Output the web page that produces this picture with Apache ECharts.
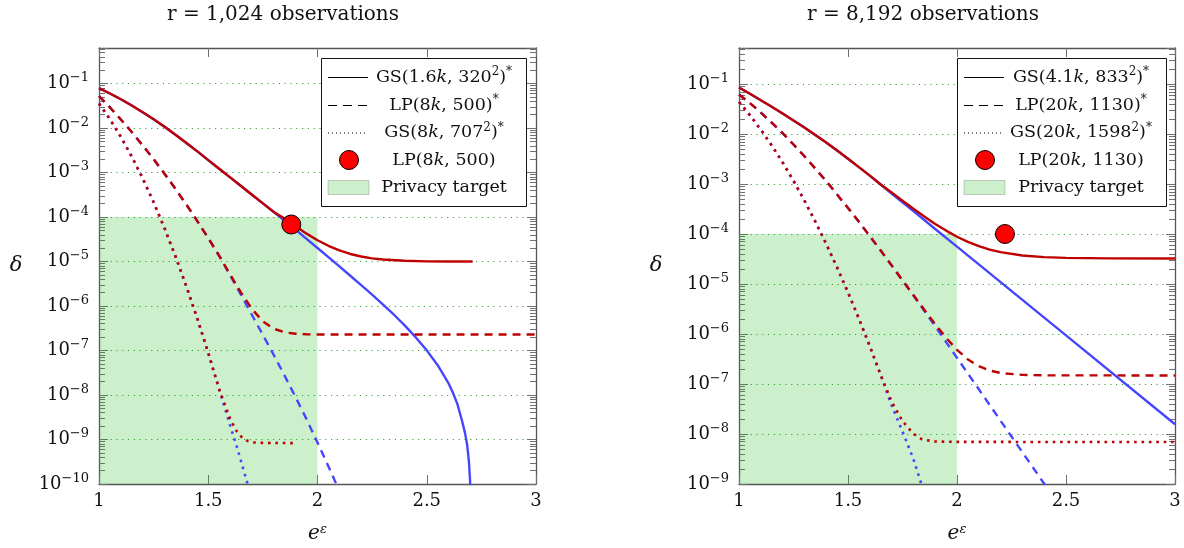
<!DOCTYPE html>
<html>
<head>
<meta charset="utf-8">
<script src="https://cdn.jsdelivr.net/npm/echarts@6/dist/echarts.min.js"></script>
<style>
  html, body { margin: 0; padding: 0; background: #ffffff; }
  #chart { width: 1184px; height: 548px; }
</style>
</head>
<body>
<div id="chart"></div>
<script>
// ---------- data: r = 1,024 observations ----------
// Each mechanism has a shared head where the finite-r curve (red) and the
// asymptotic curve (blue) coincide, followed by their separate tails.
const a_gs_x_head  = [1.0, 1.05, 1.1, 1.15, 1.2, 1.25, 1.3, 1.35, 1.4, 1.45, 1.5, 1.55, 1.6, 1.65, 1.7, 1.75, 1.8];
const a_gs_d_head  = [7.94e-2, 6.00e-2, 4.45e-2, 3.22e-2, 2.28e-2, 1.58e-2, 1.07e-2, 7.08e-3, 4.62e-3, 2.99e-3, 1.91e-3, 1.22e-3, 7.82e-4, 4.99e-4, 3.18e-4, 2.03e-4, 1.30e-4];
const a_gs_x_red   = [1.85, 1.9, 1.95, 2.0, 2.05, 2.1, 2.15, 2.2, 2.25, 2.3, 2.4, 2.5, 2.6, 2.71];
const a_gs_d_red   = [9.23e-5, 6.19e-5, 4.24e-5, 3.02e-5, 2.26e-5, 1.78e-5, 1.48e-5, 1.30e-5, 1.18e-5, 1.11e-5, 1.04e-5, 1.01e-5, 1.0e-5, 1.0e-5];
const a_gs_x_blue  = [1.85, 1.9, 1.95, 2.0, 2.05, 2.1, 2.15, 2.2, 2.25, 2.3, 2.35, 2.4, 2.45, 2.5, 2.55, 2.6, 2.62, 2.64, 2.66, 2.675, 2.685, 2.693, 2.698, 2.701];
const a_gs_d_blue  = [8.22e-5, 5.19e-5, 3.24e-5, 2.02e-5, 1.26e-5, 7.76e-6, 4.79e-6, 2.95e-6, 1.80e-6, 1.08e-6, 6.38e-7, 3.63e-7, 1.97e-7, 1.01e-7, 4.68e-8, 1.82e-8, 1.12e-8, 6.31e-9, 2.82e-9, 1.41e-9, 7.59e-10, 3.16e-10, 1.26e-10, 5.01e-11];

const a_lp_x_head  = [1.0, 1.05, 1.1, 1.15, 1.2, 1.25, 1.3, 1.35, 1.4, 1.45, 1.5, 1.55];
const a_lp_d_head  = [5.25e-2, 2.91e-2, 1.56e-2, 8.13e-3, 4.08e-3, 1.99e-3, 9.40e-4, 4.29e-4, 1.90e-4, 8.13e-5, 3.36e-5, 1.35e-5];
const a_lp_x_red   = [1.6, 1.65, 1.7, 1.75, 1.8, 1.85, 1.9, 1.95, 2.0, 3.0];
const a_lp_d_red   = [5.13e-6, 2.01e-6, 8.60e-7, 4.53e-7, 3.08e-7, 2.56e-7, 2.38e-7, 2.32e-7, 2.30e-7, 2.29e-7];
const a_lp_x_blue  = [1.6, 1.65, 1.7, 1.75, 1.8, 1.85, 1.9, 1.95, 2.0, 2.05, 2.1];
const a_lp_d_blue  = [4.90e-6, 1.78e-6, 6.31e-7, 2.24e-7, 7.94e-8, 2.69e-8, 8.91e-9, 2.84e-9, 8.53e-10, 2.48e-10, 7.0e-11];

const a_gs2_x_head = [1.0, 1.05, 1.1, 1.15, 1.2, 1.25, 1.3, 1.35, 1.4, 1.45, 1.5, 1.55];
const a_gs2_d_head = [3.55e-2, 1.58e-2, 6.35e-3, 2.29e-3, 7.40e-4, 2.15e-4, 5.60e-5, 1.31e-5, 2.76e-6, 5.22e-7, 8.85e-8, 1.35e-8];
const a_gs2_x_red  = [1.6, 1.63, 1.655, 1.68, 1.71, 1.75, 1.89];
const a_gs2_d_red  = [2.92e-9, 1.54e-9, 1.10e-9, 9.30e-10, 8.60e-10, 8.40e-10, 8.30e-10];
const a_gs2_x_blue = [1.6, 1.63, 1.655, 1.68];
const a_gs2_d_blue = [2.09e-9, 7.08e-10, 2.69e-10, 1.0e-10];

const a_point = [1.88, 6.8e-5];          // LP(8k, 500)
const a_target = [1, 2, 1e-4];           // e^eps from, e^eps to, delta ceiling
const a_yRange = [1e-10, 0.631];

// ---------- data: r = 8,192 observations ----------
const b_gs_x_head  = [1.0, 1.05, 1.1, 1.15, 1.2, 1.25, 1.3, 1.35, 1.4, 1.45, 1.5, 1.55, 1.6, 1.65];
const b_gs_d_head  = [8.51e-2, 6.38e-2, 4.75e-2, 3.52e-2, 2.58e-2, 1.87e-2, 1.35e-2, 9.57e-3, 6.73e-3, 4.68e-3, 3.21e-3, 2.18e-3, 1.47e-3, 9.77e-4];
const b_gs_x_red   = [1.7, 1.75, 1.8, 1.85, 1.9, 1.95, 2.0, 2.05, 2.1, 2.15, 2.2, 2.3, 2.4, 2.5, 2.7, 3.0];
const b_gs_d_red   = [6.79e-4, 4.63e-4, 3.19e-4, 2.23e-4, 1.59e-4, 1.17e-4, 8.82e-5, 6.96e-5, 5.71e-5, 4.88e-5, 4.33e-5, 3.72e-5, 3.45e-5, 3.33e-5, 3.26e-5, 3.24e-5];
const b_gs_x_blue  = [1.7, 1.75, 1.8, 1.85, 1.9, 2.0, 2.5, 3.0];
const b_gs_d_blue  = [6.47e-4, 4.31e-4, 2.86e-4, 1.91e-4, 1.26e-4, 5.58e-5, 9.38e-7, 1.57e-8];

const b_lp_x_head  = [1.0, 1.05, 1.1, 1.15, 1.2, 1.25, 1.3, 1.35, 1.4, 1.45, 1.5, 1.55, 1.6, 1.65, 1.7, 1.75];
const b_lp_d_head  = [6.17e-2, 4.14e-2, 2.69e-2, 1.69e-2, 1.04e-2, 6.17e-3, 3.59e-3, 2.04e-3, 1.14e-3, 6.18e-4, 3.31e-4, 1.75e-4, 9.08e-5, 4.66e-5, 2.36e-5, 1.18e-5];
const b_lp_x_red   = [1.8, 1.85, 1.9, 1.95, 2.0, 2.05, 2.1, 2.15, 2.2, 2.3, 2.4, 3.0];
const b_lp_d_red   = [6.04e-6, 3.05e-6, 1.57e-6, 8.38e-7, 4.82e-7, 3.10e-7, 2.27e-7, 1.86e-7, 1.66e-7, 1.52e-7, 1.49e-7, 1.48e-7];
const b_lp_x_blue  = [1.8, 1.85, 1.9, 1.95, 2.0, 2.05, 2.1, 2.15, 2.2, 2.25, 2.3, 2.35, 2.4, 2.41];
const b_lp_d_blue  = [5.89e-6, 2.90e-6, 1.43e-6, 6.90e-7, 3.34e-7, 1.62e-7, 7.85e-8, 3.80e-8, 1.84e-8, 8.91e-9, 4.31e-9, 2.09e-9, 1.01e-9, 8.7e-10];

const b_gs2_x_head = [1.0, 1.05, 1.1, 1.15, 1.2, 1.25, 1.3, 1.35, 1.4, 1.45, 1.5, 1.55, 1.6, 1.65];
const b_gs2_d_head = [4.37e-2, 2.38e-2, 1.22e-2, 5.92e-3, 2.70e-3, 1.16e-3, 4.67e-4, 1.77e-4, 6.35e-5, 2.14e-5, 6.78e-6, 2.03e-6, 5.70e-7, 1.51e-7];
const b_gs2_x_red  = [1.7, 1.75, 1.8, 1.84, 1.9, 2.0, 3.0];
const b_gs2_d_red  = [4.45e-8, 1.81e-8, 1.01e-8, 7.81e-9, 7.07e-9, 6.95e-9, 6.92e-9];
const b_gs2_x_blue = [1.7, 1.75, 1.8, 1.84];
const b_gs2_d_blue = [3.76e-8, 1.12e-8, 3.16e-9, 8.9e-10];

const b_point = [2.22, 1.0e-4];          // LP(20k, 1130)
const b_target = [1, 2, 1e-4];
const b_yRange = [1e-9, 0.525];

// ---------- labels ----------
const titles = ['r = 1,024 observations', 'r = 8,192 observations'];
const xRange = [1, 3, 0.5];
const legendA = ['GS(1.6{i|k}, 320{s|2}){s|*}', 'LP(8{i|k}, 500){s|*}', 'GS(8{i|k}, 707{s|2}){s|*}', 'LP(8{i|k}, 500)', 'Privacy target'];
const legendB = ['GS(4.1{i|k}, 833{s|2}){s|*}', 'LP(20{i|k}, 1130){s|*}', 'GS(20{i|k}, 1598{s|2}){s|*}', 'LP(20{i|k}, 1130)', 'Privacy target'];

// ---------- styling ----------
const SERIF = "'DejaVu Serif', serif";
const RED = '#bf0000';
const BLUE = '#4646ff';
const AXIS = '#555555';
const TICK = '#707070';
const GRIDC = 'rgba(20,150,20,0.85)';
const FILL = 'rgba(8,185,8,0.21)';
const DASH = [8, 6];
const DOT = [2.6, 4.8];

const pairs = (xs, ds) => xs.map((x, i) => [x, ds[i]]);

function curve(p, xs, ds, color, type, width, z) {
  return {
    type: 'line', xAxisIndex: 2 * p, yAxisIndex: 2 * p,
    data: pairs(xs, ds), symbol: 'none', showSymbol: false,
    smooth: false, clip: true, silent: true, z: z,
    lineStyle: { color: color, width: width, type: type, cap: 'butt', join: 'round' }
  };
}

const panels = [
  {
    grid: { left: 99, top: 48, width: 437, height: 436 },
    yRange: a_yRange, point: a_point, target: a_target,
    sets: [
      [a_gs_x_head, a_gs_d_head, a_gs_x_red, a_gs_d_red, a_gs_x_blue, a_gs_d_blue, 'solid', 2.4],
      [a_lp_x_head, a_lp_d_head, a_lp_x_red, a_lp_d_red, a_lp_x_blue, a_lp_d_blue, DASH, 2.4],
      [a_gs2_x_head, a_gs2_d_head, a_gs2_x_red, a_gs2_d_red, a_gs2_x_blue, a_gs2_d_blue, DOT, 2.6]
    ],
    title: { x: 283, y: 15 }, delta: { x: 16, y: 266 },
    legend: { x: 321, y: 58, w: 205, h: 148, sample: 328, textX: 444 }, labels: legendA
  },
  {
    grid: { left: 739, top: 48, width: 436, height: 436 },
    yRange: b_yRange, point: b_point, target: b_target,
    sets: [
      [b_gs_x_head, b_gs_d_head, b_gs_x_red, b_gs_d_red, b_gs_x_blue, b_gs_d_blue, 'solid', 2.4],
      [b_lp_x_head, b_lp_d_head, b_lp_x_red, b_lp_d_red, b_lp_x_blue, b_lp_d_blue, DASH, 2.4],
      [b_gs2_x_head, b_gs2_d_head, b_gs2_x_red, b_gs2_d_red, b_gs2_x_blue, b_gs2_d_blue, DOT, 2.6]
    ],
    title: { x: 923, y: 15 }, delta: { x: 656, y: 266 },
    legend: { x: 957, y: 58, w: 209, h: 148, sample: 964, textX: 1081 }, labels: legendB
  }
];

const grids = [], xAxes = [], yAxes = [], series = [], graphics = [];

const supRich = {
  s: { fontSize: 12, fontFamily: SERIF, verticalAlign: 'top', lineHeight: 12, fill: '#111' },
  i: { fontSize: 17.5, fontFamily: SERIF, fontStyle: 'italic', fill: '#111' }
};

panels.forEach((P, p) => {
  grids.push(Object.assign({ containLabel: false }, P.grid));

  const xBase = { type: 'value', gridIndex: p, min: xRange[0], max: xRange[1], interval: xRange[2],
    axisLine: { show: true, onZero: false, lineStyle: { color: AXIS, width: 1.3 } },
    axisTick: { show: true, inside: true, length: 9, lineStyle: { color: TICK, width: 1 } },
    splitLine: { show: false } };
  xAxes.push(Object.assign({}, xBase, { position: 'bottom',
    axisLabel: { show: true, margin: 8, color: '#111', fontFamily: SERIF, fontSize: 18,
      formatter: v => String(v) } }));
  xAxes.push(Object.assign({}, xBase, { position: 'top', axisLabel: { show: false } }));

  const yBase = { type: 'log', logBase: 10, gridIndex: p, min: P.yRange[0], max: P.yRange[1], splitNumber: 10,
    axisLine: { show: true, onZero: false, lineStyle: { color: AXIS, width: 1.3 } },
    axisTick: { show: true, inside: true, length: 9, lineStyle: { color: TICK, width: 1 } },
    minorTick: { show: true, splitNumber: 9, length: 6, lineStyle: { color: TICK, width: 1 } } };
  yAxes.push(Object.assign({}, yBase, { position: 'left',
    splitLine: { show: true, lineStyle: { color: GRIDC, width: 1, type: [1.2, 4.6] } },
    axisLabel: { show: true, margin: 10, showMaxLabel: false, showMinLabel: true,
      color: '#111', fontFamily: SERIF, fontSize: 18, lineHeight: 24,
      formatter: v => '10{s|\u2212' + Math.abs(Math.round(Math.log10(v))) + '}',
      rich: { s: { fontSize: 13, fontFamily: SERIF, verticalAlign: 'top', lineHeight: 13, color: '#111' } } } }));
  yAxes.push(Object.assign({}, yBase, { position: 'right', splitLine: { show: false }, axisLabel: { show: false } }));

  // privacy target region
  series.push({ type: 'line', xAxisIndex: 2 * p, yAxisIndex: 2 * p, data: [], z: 1, silent: true,
    markArea: { silent: true, itemStyle: { color: FILL }, label: { show: false },
      data: [[{ coord: [P.target[0], P.yRange[0]] }, { coord: [P.target[1], P.target[2]] }]] } });

  // asymptotic curves (blue) below, finite-r curves (red) on top
  P.sets.forEach(s => series.push(curve(p, s[0].concat(s[4]), s[1].concat(s[5]), BLUE, s[6], s[7], 3)));
  P.sets.forEach(s => series.push(curve(p, s[0].concat(s[2]), s[1].concat(s[3]), RED, s[6], s[7], 4)));

  series.push({ type: 'scatter', xAxisIndex: 2 * p, yAxisIndex: 2 * p, data: [P.point], z: 6, silent: true,
    symbol: 'circle', symbolSize: 19, clip: false,
    itemStyle: { color: '#ff0000', borderColor: '#000', borderWidth: 1, opacity: 1 } });

  // title and axis names
  graphics.push({ type: 'text', x: P.title.x, y: P.title.y, z: 20,
    style: { text: titles[p], font: '20px ' + SERIF, fill: '#111', align: 'center', verticalAlign: 'middle' } });
  graphics.push({ type: 'text', x: P.delta.x, y: P.delta.y, z: 20,
    style: { text: '\u03b4', font: 'italic 21px ' + SERIF, fill: '#111', align: 'center', verticalAlign: 'middle' } });
  graphics.push({ type: 'text', x: P.grid.left + P.grid.width / 2, y: 534, z: 20,
    style: { text: 'e{s|\u03b5}', font: 'italic 20px ' + SERIF, fill: '#111', align: 'center', verticalAlign: 'middle', lineHeight: 22,
      rich: { s: { fontSize: 13, fontFamily: SERIF, fontStyle: 'italic', verticalAlign: 'top', lineHeight: 13, fill: '#111' } } } });

  // legend box
  const L = P.legend;
  graphics.push({ type: 'rect', z: 20, shape: { x: L.x + 0.5, y: L.y + 0.5, width: L.w, height: L.h },
    style: { fill: '#ffffff', stroke: '#111', lineWidth: 1 } });
  const rowY = [19, 47, 74.5, 102, 129.5].map(d => L.y + d);
  const sx0 = L.sample, sx1 = L.sample + 40;
  graphics.push({ type: 'line', z: 21, shape: { x1: sx0, y1: rowY[0] + 0.5, x2: sx1, y2: rowY[0] + 0.5 },
    style: { stroke: '#000', lineWidth: 1 } });
  graphics.push({ type: 'line', z: 21, shape: { x1: sx0, y1: rowY[1] + 0.5, x2: sx1, y2: rowY[1] + 0.5 },
    style: { stroke: '#000', lineWidth: 1, lineDash: [9, 6] } });
  graphics.push({ type: 'line', z: 21, shape: { x1: sx0, y1: rowY[2] + 0.5, x2: sx1, y2: rowY[2] + 0.5 },
    style: { stroke: '#000', lineWidth: 1, lineDash: [1, 3] } });
  graphics.push({ type: 'circle', z: 21, shape: { cx: sx0 + 21, cy: rowY[3], r: 9.5 },
    style: { fill: '#ff0000', stroke: '#000', lineWidth: 1 } });
  graphics.push({ type: 'rect', z: 21, shape: { x: sx0, y: rowY[4] - 7, width: 41, height: 14 },
    style: { fill: FILL, stroke: 'rgba(0,0,0,0.18)', lineWidth: 1 } });
  P.labels.forEach((t, k) => {
    graphics.push({ type: 'text', z: 21, x: L.textX, y: rowY[k],
      style: { text: t, font: '17.5px ' + SERIF, fill: '#111', align: 'center', verticalAlign: 'middle', lineHeight: 22, rich: supRich } });
  });
});

const chart = echarts.init(document.getElementById('chart'), null, { renderer: 'canvas' });
chart.setOption({
  animation: false,
  backgroundColor: '#ffffff',
  grid: grids,
  xAxis: xAxes,
  yAxis: yAxes,
  series: series,
  graphic: { elements: graphics }
});
</script>
</body>
</html>
